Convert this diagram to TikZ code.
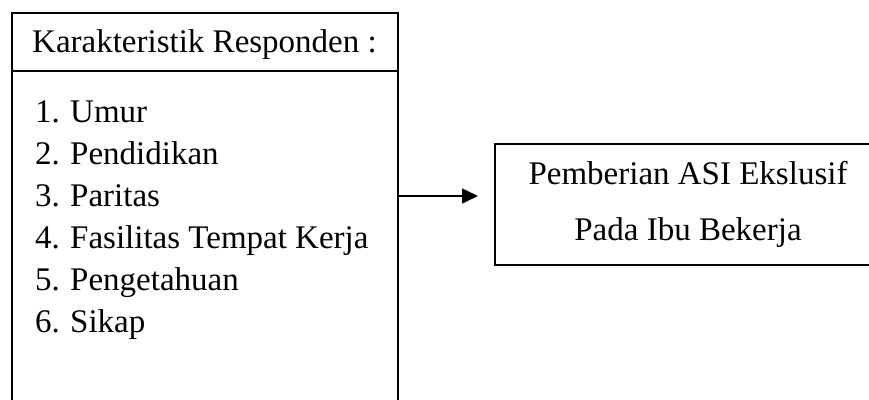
\documentclass[tikz,border=0pt]{standalone}
\usepackage{fontspec}
\setmainfont{Liberation Serif}
\usetikzlibrary{positioning}
\usetikzlibrary{arrows.meta}
\tikzstyle{kotak} = [rectangle, draw=black, line width=1.6pt, inner sep=0pt]
\tikzstyle{teks} = [font=\fontsize{33}{42}\selectfont, inner sep=0pt]
\tikzstyle{arrow} = [line width=1.6pt, -{Triangle[length=16pt, width=15pt]}]

\begin{document}
\begin{tikzpicture}[x=1pt, y=-1pt]
        \useasboundingbox (0,0) rectangle (869,399);
        \clip (0,0) rectangle (869,399);
        % kotak kiri
        \node (karakteristik) [kotak, anchor=north west, minimum width=386pt, minimum height=420pt] at (11,12) {};
        \coordinate (garis) at (0,71);
        \draw [line width=1.6pt] (karakteristik.west |- garis) -- (karakteristik.east |- garis);
        \node (judul) [teks, anchor=base west] at (32,52) {Karakteristik Responden :};
        \foreach \isi [count=\i] in {Umur, Pendidikan, Paritas, Fasilitas Tempat Kerja, Pengetahuan, Sikap}
        {
            \node (nomor\i) [teks, anchor=base west] at (35,{122+42*(\i-1)}) {\i.};
            \node (isi\i) [teks, anchor=base west] at (70,{122+42*(\i-1)}) {\isi};
        }
        % kotak kanan
        \node (pemberian) [kotak, teks, align=center, minimum width=386pt, minimum height=121pt, font=\fontsize{33}{56}\selectfont] at (688,204.5) {Pemberian ASI Ekslusif\\Pada Ibu Bekerja};
        \coordinate (ujung) at (478,196);
        \draw [arrow] (karakteristik.east |- ujung) -- (ujung);
\end{tikzpicture}
\end{document}
